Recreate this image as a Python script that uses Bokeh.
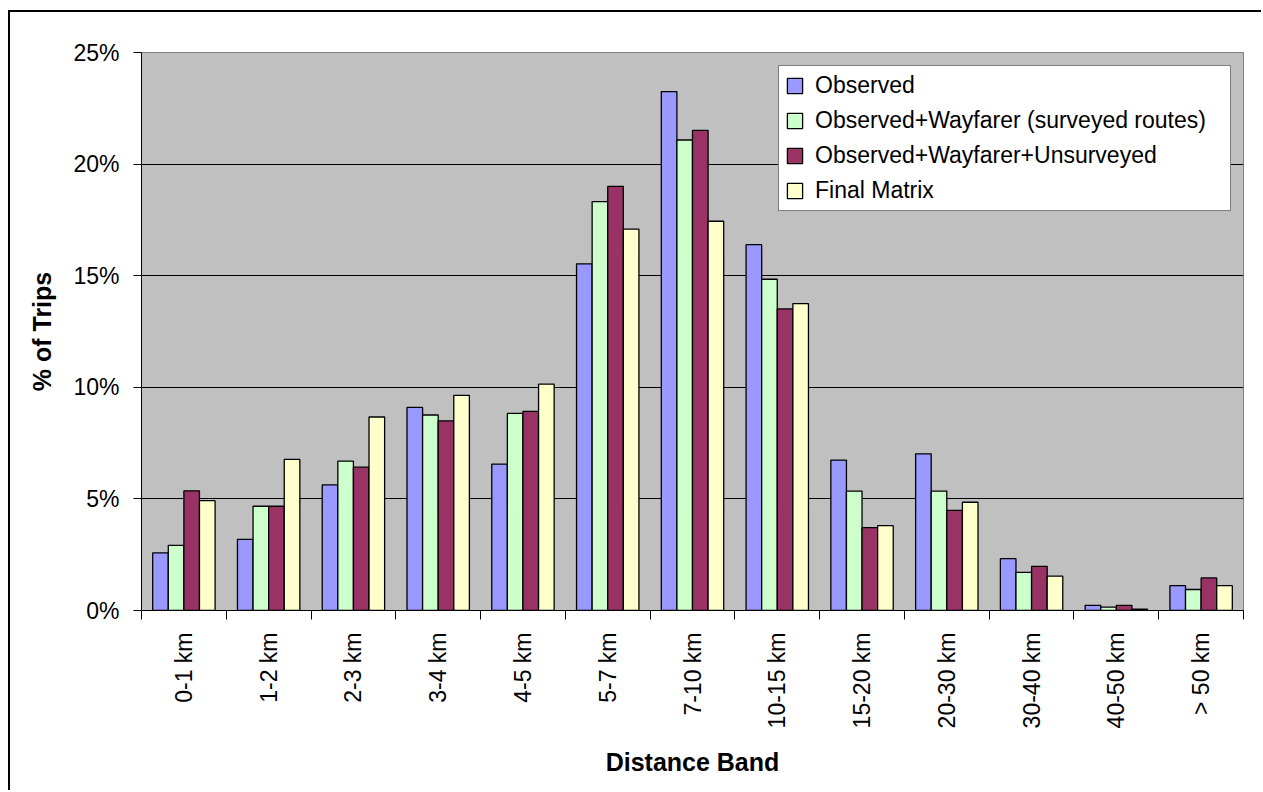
import math
from bokeh.plotting import figure
from bokeh.models import (Range1d, FixedTicker, CustomJSTickFormatter, Legend, LegendItem,
                          ColumnDataSource)
from bokeh.embed import file_html
from bokeh.resources import INLINE

# Share of trips (%) by distance band
bands = ["0-1 km", "1-2 km", "2-3 km", "3-4 km", "4-5 km", "5-7 km", "7-10 km",
         "10-15 km", "15-20 km", "20-30 km", "30-40 km", "40-50 km", "> 50 km"]
observed = [2.58, 3.19, 5.63, 9.10, 6.56, 15.53, 23.25, 16.39, 6.74, 7.02, 2.32, 0.23, 1.11]
obs_wayfarer = [2.92, 4.67, 6.69, 8.76, 8.83, 18.32, 21.08, 14.84, 5.35, 5.35, 1.71, 0.15, 0.94]
obs_wayfarer_unsurveyed = [5.36, 4.67, 6.42, 8.50, 8.92, 19.00, 21.51, 13.51, 3.71, 4.49, 1.98, 0.23, 1.46]
final_matrix = [4.92, 6.77, 8.67, 9.64, 10.14, 17.09, 17.44, 13.75, 3.80, 4.85, 1.54, 0.06, 1.11]

series_names = ["Observed", "Observed+Wayfarer (surveyed routes)",
                "Observed+Wayfarer+Unsurveyed", "Final Matrix"]
series_values = [observed, obs_wayfarer, obs_wayfarer_unsurveyed, final_matrix]
series_colors = ["#9999FF", "#CCFFCC", "#993366", "#FFFFCC"]
y_ticks = [0, 5, 10, 15, 20, 25]

FONT = "Liberation Sans"
n = len(bands)
bar_w = 0.184

# chart area starts at (8, 10) and is framed on its left and top edges
p = figure(width=1253, height=780, output_backend="svg", toolbar_location=None,
           x_range=Range1d(0, n), y_range=Range1d(0, 25),
           min_border_left=131, min_border_right=20, min_border_top=40, min_border_bottom=182)
p.margin = (10, 0, 0, 8)
p.styles = {"border-left": "2px solid black", "border-top": "2px solid black"}
p.background_fill_color = "#C0C0C0"
p.border_fill_color = "white"
p.outline_line_color = "#808080"
p.outline_line_width = 1

items = []
for k, (name, vals, col) in enumerate(zip(series_names, series_values, series_colors)):
    xs = [i + 0.5 + (k - 1.5) * bar_w for i in range(n)]
    src = ColumnDataSource(dict(x=xs, top=vals))
    r = p.vbar(x="x", top="top", bottom=0, width=bar_w, source=src,
               fill_color=col, line_color="black", line_width=1.3)
    items.append(LegendItem(label=name, renderers=[r]))

# grid
p.xgrid.grid_line_color = None
p.ygrid.ticker = FixedTicker(ticks=y_ticks)
p.ygrid.grid_line_color = "black"
p.ygrid.grid_line_width = 1

# y axis
ya = p.yaxis[0]
ya.ticker = FixedTicker(ticks=y_ticks)
ya.formatter = CustomJSTickFormatter(code="return tick.toFixed(0) + '%';")
ya.major_tick_in = 0
ya.major_tick_out = 8
ya.minor_tick_line_color = None
ya.axis_line_color = "black"
ya.major_tick_line_color = "black"
ya.major_label_text_font = FONT
ya.major_label_text_font_size = "23px"
ya.major_label_text_color = "black"
ya.major_label_standoff = 14
ya.axis_label = "% of Trips"
ya.axis_label_text_font = FONT
ya.axis_label_text_font_size = "25px"
ya.axis_label_text_font_style = "bold"
ya.axis_label_text_color = "black"
ya.axis_label_standoff = 14

# x axis: labels at band centres, tick marks at band boundaries
xa = p.xaxis[0]
xa.ticker = FixedTicker(ticks=[i + 0.5 for i in range(n)],
                        minor_ticks=[float(i) for i in range(n + 1)])
xa.formatter = CustomJSTickFormatter(args=dict(labels=bands),
                                     code="return labels[Math.floor(tick)];")
xa.major_tick_line_color = None
xa.minor_tick_line_color = "black"
xa.minor_tick_in = 0
xa.minor_tick_out = 9
xa.axis_line_color = "black"
xa.major_label_orientation = math.pi / 2
xa.major_label_text_font = FONT
xa.major_label_text_font_size = "23px"
xa.major_label_text_color = "black"
xa.major_label_standoff = 13
xa.axis_label = "Distance Band"
xa.axis_label_text_font = FONT
xa.axis_label_text_font_size = "25px"
xa.axis_label_text_font_style = "bold"
xa.axis_label_text_color = "black"
xa.axis_label_standoff = 17

legend = Legend(items=items, location=(637, 399))
legend.label_text_font = FONT
legend.label_text_font_size = "23px"
legend.label_text_color = "black"
legend.glyph_width = 19
legend.glyph_height = 19
legend.label_standoff = 11
legend.label_width = 409
legend.spacing = 8
legend.padding = 6
legend.border_line_color = "black"
legend.border_line_width = 1.5
legend.background_fill_color = "white"
legend.background_fill_alpha = 1
p.add_layout(legend, "center")

open("out.html", "w").write(file_html(p, INLINE))
